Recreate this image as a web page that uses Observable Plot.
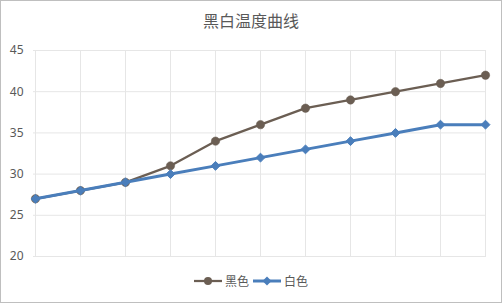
<!DOCTYPE html>
<html><head><meta charset="utf-8">
<script src="https://cdn.jsdelivr.net/npm/d3@7"></script>
<script src="https://cdn.jsdelivr.net/npm/@observablehq/plot@0.6"></script>
<style>
html,body{margin:0;padding:0;background:#fff;}
#wrap{position:relative;width:502px;height:303px;overflow:hidden;font-family:"Noto Sans CJK SC","Noto Sans",sans-serif;}
#frame{position:absolute;left:0;top:0;width:500px;height:301px;border:1px solid #bfbfbf;pointer-events:none;}
#title{position:absolute;left:0;top:8px;width:502px;text-align:center;font-size:16px;line-height:24px;color:#595959;}
#legend{position:absolute;left:0;top:272px;width:502px;display:flex;justify-content:center;align-items:center;font-size:12px;line-height:18px;color:#595959;}
#legend .item{display:flex;align-items:center;margin:0 2px;}
#legend svg{margin-right:3px;}
#chart{position:absolute;left:0;top:0;}
</style></head>
<body>
<div id="wrap">
  <div id="chart"></div>
  <div id="title"></div>
  <div id="legend"></div>
  <div id="frame"></div>
</div>
<script>
const title = "黑白温度曲线";
const categories = ["1","2","3","4","5","6","7","8","9","10","11"];
const seriesNames = ["黑色","白色"];
const blackValues = [27, 28, 29, 31, 34, 36, 38, 39, 40, 41, 42];
const whiteValues = [27, 28, 29, 30, 31, 32, 33, 34, 35, 36, 36];
const yTicks = [20, 25, 30, 35, 40, 45];
const colors = ["#6b5e53", "#4a7ebb"];

const rows = [];
categories.forEach((c, i) => {
  rows.push({cat: c, value: blackValues[i], series: seriesNames[0]});
  rows.push({cat: c, value: whiteValues[i], series: seriesNames[1]});
});
const blackRows = rows.filter(d => d.series === seriesNames[0]);
const whiteRows = rows.filter(d => d.series === seriesNames[1]);

const chart = Plot.plot({
  width: 502,
  height: 303,
  marginTop: 50,
  marginBottom: 47,
  marginLeft: 33,
  marginRight: 16,
  style: {fontFamily: "'Noto Sans', sans-serif", fontSize: "12px", color: "#595959", background: "transparent"},
  x: {type: "point", domain: categories, padding: 0, axis: null},
  y: {domain: [20, 45], ticks: yTicks, tickSize: 0, tickPadding: 10, label: null},
  marks: [
    Plot.ruleY(yTicks, {stroke: "#e6e6e6", strokeWidth: 1}),
    Plot.ruleX(categories, {stroke: "#e6e6e6", strokeWidth: 1}),
    Plot.line(blackRows, {x: "cat", y: "value", stroke: colors[0], strokeWidth: 2.25}),
    Plot.dot(blackRows, {x: "cat", y: "value", r: 4.2, fill: colors[0], stroke: colors[0], strokeWidth: 0.5}),
    Plot.line(whiteRows, {x: "cat", y: "value", stroke: colors[1], strokeWidth: 3}),
    Plot.dot(whiteRows, {x: "cat", y: "value", symbol: "diamond2", r: 4, fill: colors[1], stroke: colors[1], strokeWidth: 1})
  ]
});
document.getElementById("chart").appendChild(chart);
document.getElementById("title").textContent = title;

const legend = document.getElementById("legend");
seriesNames.forEach((name, i) => {
  const item = document.createElement("div");
  item.className = "item";
  const marker = i === 0
    ? `<circle cx="14" cy="9" r="4" fill="${colors[0]}"/>`
    : `<path d="M14,4.5L18.5,9L14,13.5L9.5,9Z" fill="${colors[1]}"/>`;
  item.innerHTML = `<svg width="28" height="18"><line x1="0" y1="9" x2="28" y2="9" stroke="${colors[i]}" stroke-width="${i===0?2.25:3}"/>${marker}</svg><span>${name}</span>`;
  legend.appendChild(item);
});
</script>
</body></html>
